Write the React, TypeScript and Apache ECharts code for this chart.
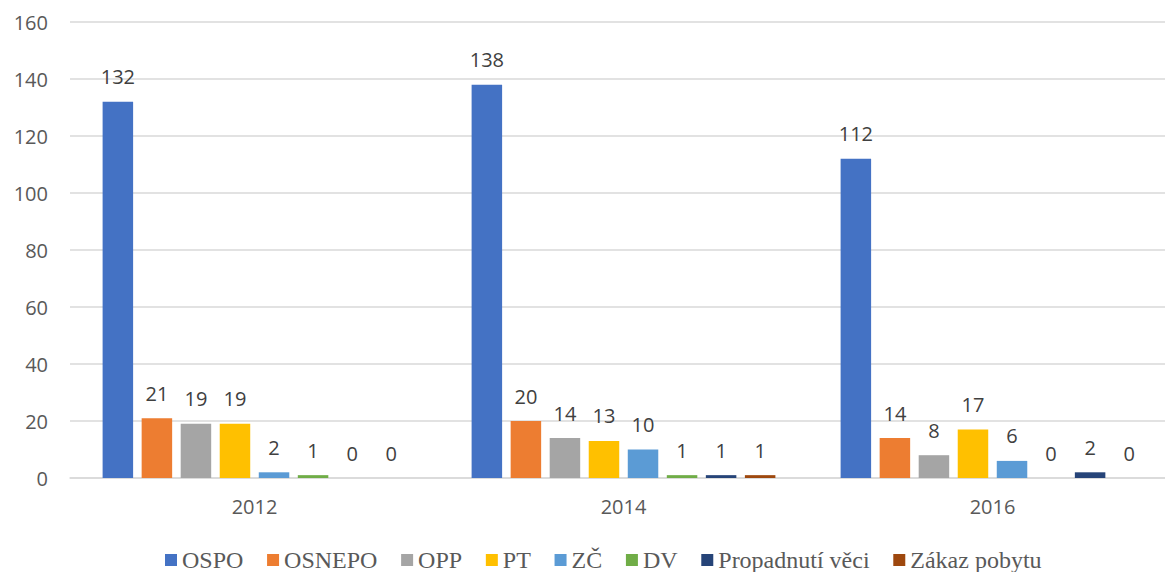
import React, { useEffect, useRef } from "react";
import * as echarts from "echarts";

const categories = ["2012", "2014", "2016"];
const seriesNames = ["OSPO", "OSNEPO", "OPP", "PT", "ZČ", "DV", "Propadnutí věci", "Zákaz pobytu"];
const ospo = [132, 138, 112];
const osnepo = [21, 20, 14];
const opp = [19, 14, 8];
const pt = [19, 13, 17];
const zc = [2, 10, 6];
const dv = [1, 1, 0];
const propadnuti = [0, 1, 2];
const zakaz = [0, 1, 0];
const seriesValues = [ospo, osnepo, opp, pt, zc, dv, propadnuti, zakaz];
const colors = ["#4472C4", "#ED7D31", "#A5A5A5", "#FFC000", "#5B9BD5", "#70AD47", "#264478", "#9E480E"];

export default function App() {
  const ref = useRef<HTMLDivElement>(null);
  useEffect(() => {
    if (!ref.current) return;
    const chart = echarts.init(ref.current, undefined, { renderer: "svg" });
    chart.setOption({
      animation: false,
      color: colors,
      textStyle: { fontFamily: "Open Sans" },
      grid: { left: 70, width: 1107, top: 22, bottom: 94, containLabel: false, outerBoundsMode: "none" },
      legend: {
        left: 160,
        top: 543,
        itemWidth: 12,
        itemHeight: 12,
        itemGap: 23.7,
        icon: "rect",
        textStyle: { fontFamily: "Liberation Serif", fontSize: 24, lineHeight: 24, color: "#595959" },
        data: seriesNames,
      },
      xAxis: {
        type: "category",
        data: categories,
        axisLine: { lineStyle: { color: "#D9D9D9", width: 1.5 } },
        axisTick: { show: false },
        axisLabel: { color: "#595959", fontSize: 20, margin: 18, fontFamily: "Open Sans" },
      },
      yAxis: {
        type: "value",
        min: 0,
        max: 160,
        interval: 20,
        axisLine: { show: false },
        axisTick: { show: false },
        splitLine: { lineStyle: { color: "#D9D9D9", width: 1.5 } },
        axisLabel: { color: "#595959", fontSize: 20, margin: 22, fontFamily: "Open Sans" },
      },
      series: seriesNames.map((name, i) => ({
        name,
        type: "bar",
        data: seriesValues[i],
        barWidth: 30.5,
        barGap: "28%",
        itemStyle: { color: colors[i] },
        label: {
          show: true,
          position: "top",
          distance: 15,
          color: "#404040",
          fontSize: 20,
          fontFamily: "Open Sans",
        },
      })),
    });
    return () => chart.dispose();
  }, []);
  return (
    <div
      ref={ref}
      style={{ position: "fixed", left: 0, top: 0, width: 1165, height: 572, background: "#fff" }}
    />
  );
}
